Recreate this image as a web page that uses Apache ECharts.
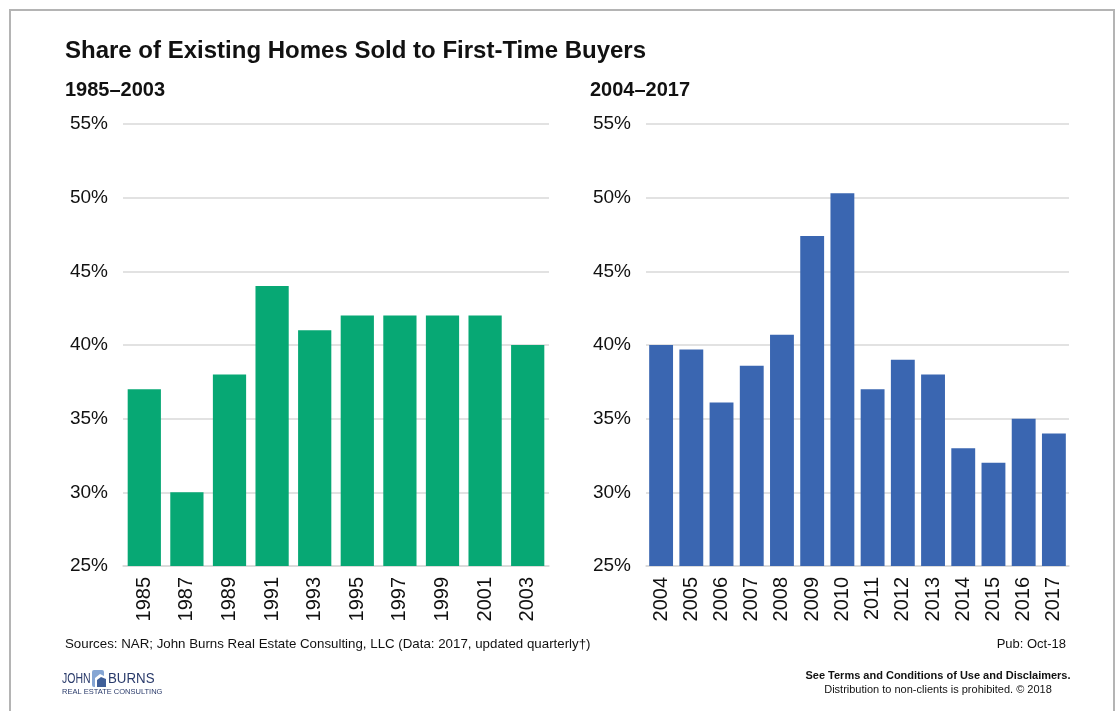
<!DOCTYPE html>
<html>
<head>
<meta charset="utf-8">
<script src="https://cdn.jsdelivr.net/npm/echarts@6/dist/echarts.min.js"></script>
<style>
html,body{margin:0;padding:0;background:#fff;}
#c{width:1119px;height:711px;}
</style>
</head>
<body>
<div id="c"></div>
<script>
// ---- data ----
const yearsEarly = ['1985','1987','1989','1991','1993','1995','1997','1999','2001','2003'];
const shareEarly = [37, 30, 38, 44, 41, 42, 42, 42, 42, 40];
const yearsLate = ['2004','2005','2006','2007','2008','2009','2010','2011','2012','2013','2014','2015','2016','2017'];
const shareLate = [40, 39.7, 36.1, 38.6, 40.7, 47.4, 50.3, 37, 39, 38, 33, 32, 35, 34];
const yTicks = [25, 30, 35, 40, 45, 50, 55];

const titleText = 'Share of Existing Homes Sold to First-Time Buyers';
const panelTitles = ['1985–2003', '2004–2017'];
const sourceText = 'Sources: NAR; John Burns Real Estate Consulting, LLC (Data: 2017, updated quarterly†)';
const pubText = 'Pub: Oct-18';
const termsText = 'See Terms and Conditions of Use and Disclaimers.';
const distText = 'Distribution to non-clients is prohibited. © 2018';

const FONT = "'Liberation Sans', Arial, Helvetica, sans-serif";
const GREEN = '#07a874';
const BLUE = '#3a66b1';
const GRID = '#d9d9d9';
const NAVY = '#2a3b6b';

function yAxis(gridIndex) {
  return {
    type: 'value', gridIndex: gridIndex,
    min: yTicks[0], max: yTicks[yTicks.length - 1], interval: 5,
    axisLine: {show: false}, axisTick: {show: false},
    splitLine: {lineStyle: {color: GRID, width: 1.5}},
    axisLabel: {formatter: '{value}%', fontFamily: FONT, fontSize: 19, color: '#111', margin: 15}
  };
}
function xAxis(gridIndex, cats) {
  return {
    type: 'category', gridIndex: gridIndex, data: cats,
    axisLine: {show: true, lineStyle: {color: GRID, width: 1.5}},
    axisTick: {show: false},
    axisLabel: {rotate: 90, fontFamily: FONT, fontSize: 20, color: '#111', margin: 11, interval: 0}
  };
}
function txt(x, y, text, font, align, color, scaleX) {
  return {type: 'text', x: x, y: y, scaleX: scaleX || 1, silent: true,
    style: {text: text, font: font, fill: color || '#111',
      align: align || 'left', verticalAlign: 'middle',
      textAlign: align || 'left', textVerticalAlign: 'middle'}};
}

const chart = echarts.init(document.getElementById('c'), null, {renderer: 'canvas'});
chart.setOption({
  backgroundColor: '#fff',
  animation: false,
  grid: [
    {left: 123, top: 124, width: 426, height: 442},
    {left: 646, top: 124, width: 423, height: 442}
  ],
  xAxis: [xAxis(0, yearsEarly), xAxis(1, yearsLate)],
  yAxis: [yAxis(0), yAxis(1)],
  series: [
    {type: 'bar', xAxisIndex: 0, yAxisIndex: 0, data: shareEarly,
     itemStyle: {color: GREEN}, barCategoryGap: '22%'},
    {type: 'bar', xAxisIndex: 1, yAxisIndex: 1, data: shareLate,
     itemStyle: {color: BLUE}, barCategoryGap: '21%'}
  ],
  graphic: [
    {type: 'rect', silent: true, shape: {x: 10, y: 10, width: 1104, height: 720},
     style: {fill: 'none', stroke: '#b4b4b4', lineWidth: 2}},
    txt(65, 51, titleText, "bold 24px " + FONT),
    txt(65, 90, panelTitles[0], "bold 20px " + FONT),
    txt(590, 90, panelTitles[1], "bold 20px " + FONT),
    txt(65, 644, sourceText, "13.3px " + FONT),
    txt(1066, 644, pubText, "13px " + FONT, 'right'),
    txt(938, 676, termsText, "bold 11px " + FONT, 'center'),
    txt(938, 690, distText, "11px " + FONT, 'center'),
    // logo
    txt(62, 679, 'JOHN', "14px " + FONT, 'left', NAVY, 0.75),
    {type: 'rect', silent: true, shape: {x: 92, y: 670, width: 12, height: 17, r: 2}, style: {fill: '#86a6d4'}},
    {type: 'polygon', silent: true, shape: {points: [[95, 687], [95, 678], [100, 674], [106, 677], [106, 687]]}, style: {fill: '#ffffff'}},
    {type: 'polygon', silent: true, shape: {points: [[97, 687], [97, 680], [101, 677], [106, 679], [106, 687]]}, style: {fill: '#3f5f99'}},
    txt(108, 679, 'BURNS', "14px " + FONT, 'left', NAVY, 0.95),
    txt(62, 692, 'REAL ESTATE CONSULTING', "7.5px " + FONT, 'left', NAVY)
  ]
});
</script>
</body>
</html>
